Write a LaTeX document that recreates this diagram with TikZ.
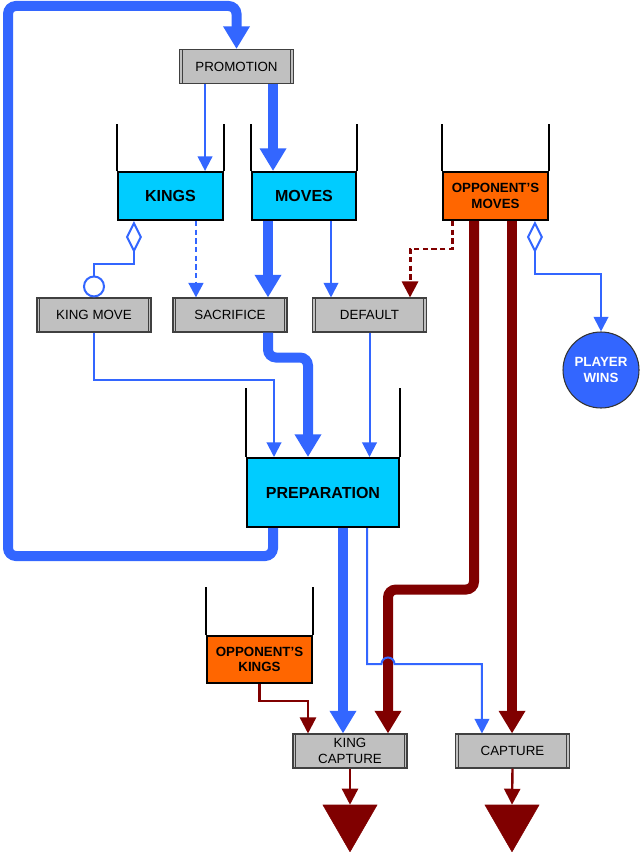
\documentclass[tikz,border=0pt]{standalone}
\usepackage{fontspec}
\setmainfont{Liberation Sans}
\usetikzlibrary{arrows.meta,shapes.geometric}

\definecolor{flowblue}{RGB}{51,102,255}
\definecolor{tankcyan}{RGB}{0,204,255}
\definecolor{tankorange}{RGB}{255,102,0}
\definecolor{darkred}{RGB}{128,0,0}
\definecolor{boxgray}{RGB}{192,192,192}

\tikzset{
  proc/.style={draw=black!75, line width=0.8pt, fill=boxgray, minimum width=85.5pt,
    minimum height=25.5pt, inner sep=1pt, align=center, font=\fontsize{10}{11.5}\selectfont,
    path picture={\draw[black!75, line width=0.8pt]
      ([xshift=2.2pt]path picture bounding box.north west) -- ([xshift=2.2pt]path picture bounding box.south west)
      ([xshift=-2.2pt]path picture bounding box.north east) -- ([xshift=-2.2pt]path picture bounding box.south east);}},
  tank/.style={draw=black, line width=1.5pt, fill=tankcyan, minimum width=78.75pt,
    minimum height=36pt, inner sep=1pt, align=center, font=\bfseries\fontsize{12}{14}\selectfont},
  opptank/.style={tank, fill=tankorange, font=\bfseries\fontsize{10}{11.5}\selectfont},
  wall/.style={draw=black, line width=1.5pt},
  sink/.style={regular polygon, regular polygon sides=3, shape border rotate=180,
    fill=darkred, draw=darkred, minimum size=46.8pt, inner sep=0pt},
  flow/.style={draw=flowblue, line width=1.5pt, -{Triangle[length=11pt,width=11pt]}},
  bigflow/.style={draw=flowblue, line width=7.5pt, rounded corners=6pt, -{Triangle[length=17pt,width=19pt]}},
  redflow/.style={draw=darkred, line width=1.8pt, -{Triangle[length=12pt,width=12pt]}},
  bigredflow/.style={draw=darkred, line width=7.5pt, rounded corners=6pt, -{Triangle[length=17pt,width=19pt]}},
  dotflow/.style={dash pattern=on 4pt off 2.5pt, line width=2.2pt},
  owns/.style={draw=flowblue, line width=1.5pt}
}

\begin{document}
\begin{tikzpicture}[x=0.75pt,y=0.75pt,yscale=-1,xscale=1]
\useasboundingbox (0,0) rectangle (639,852);

% processes
\node[proc] (promo) at (236.5,66.5) {PROMOTION};
\node[proc] (kingmove) at (94,315) {KING MOVE};
\node[proc] (sacrifice) at (230,315) {SACRIFICE};
\node[proc] (default) at (369.5,315) {DEFAULT};
\node[proc] (kingcap) at (350,751) {KING\\CAPTURE};
\node[proc] (capture) at (512.5,751) {CAPTURE};

% stores
\node[tank] (kings) at (170.5,196) {KINGS};
\node[tank, minimum width=78pt] (moves) at (304,196) {MOVES};
\node[opptank] (oppmoves) at (495.5,196) {OPPONENT’S\\MOVES};
\node[tank, minimum width=114pt, minimum height=51.75pt] (prep) at (323,492.5) {PREPARATION};
\node[opptank, minimum height=35.25pt] (oppkings) at (259.5,659.5) {OPPONENT’S\\KINGS};
\foreach \t/\h in {kings/47,moves/47,oppmoves/47,prep/69,oppkings/48}
  \draw[wall] (\t.north west) -- ++(0,-\h) (\t.north east) -- ++(0,-\h);

% end states
\node[circle, draw=black!80, line width=0.8pt, fill=flowblue, minimum size=57pt, inner sep=0pt,
  align=center, text=white, font=\bfseries\fontsize{10}{11.5}\selectfont] (wins) at (601,370) {PLAYER\\WINS};
\node[sink] (sink1) at (350,820.6) {};
\node[sink] (sink2) at (512,820.6) {};

\coordinate (loopbl) at (8,556);
\coordinate (looptl) at (8,6);

% main loop
\draw[bigflow] ([xshift=-37.5pt]prep.south) |- (loopbl) -- (looptl) -| (promo.north);

% promotion
\draw[flow] ([xshift=-23.6pt]promo.south) coordinate (p1) -- (p1 |- kings.north);
\draw[bigflow] ([xshift=27.4pt]promo.south) coordinate (p2) -- (p2 |- moves.north);

% kings and moves
\draw[owns, {Diamond[open,length=24pt,width=12pt]}-{Circle[open,length=16.5pt,width=16.5pt]}]
  ([xshift=-27.4pt]kings.south) -- ++(0,43) -| (kingmove.north);
\draw[flow, dotflow] ([xshift=19.1pt]kings.south) coordinate (k1) -- (k1 |- sacrifice.north);
\draw[bigflow] ([xshift=-27pt]moves.south) coordinate (m1) -- (m1 |- sacrifice.north);
\draw[flow] ([xshift=20.25pt]moves.south) coordinate (m2) -- (m2 |- default.north);

% opponent's moves
\draw[redflow, dotflow] ([xshift=-32.6pt]oppmoves.south) -- ++(0,28) -| ([xshift=30.4pt]default.north);
\draw[owns, {Diamond[open,length=24pt,width=12pt]}-{Triangle[length=11pt,width=11pt]}]
  ([xshift=29.6pt]oppmoves.south) -- ++(0,53) -| (wins.north);
\draw[bigredflow] ([xshift=-16.1pt]oppmoves.south) -- ++(0,368.5) -| ([xshift=28.5pt]kingcap.north);
\draw[bigredflow] ([xshift=12.4pt]oppmoves.south) coordinate (o2) -- (o2 |- capture.north);

% into preparation
\draw[flow] (kingmove.south) -- ++(0,47) -| ([xshift=-36.75pt]prep.north);
\draw[bigflow] ([xshift=28.5pt]sacrifice.south) -- ++(0,25) -| ([xshift=-11.25pt]prep.north);
\draw[flow] (default.south) -- (default.south |- prep.north);

% out of preparation
\draw[bigflow] ([xshift=15pt]prep.south) coordinate (r1) -- (r1 |- kingcap.north);
\draw[flow] ([xshift=33pt]prep.south) -- ++(0,136) -- ++(14.5,0)
  arc[start angle=180, end angle=360, radius=6.5] -| ([xshift=-22.9pt]capture.north);
\draw[redflow] (oppkings.south) -- ++(0,17) -| ([xshift=-31.5pt]kingcap.north);

% captures
\draw[redflow] (kingcap.south) -- (sink1.north);
\draw[redflow] (capture.south) -- (sink2.north);

\end{tikzpicture}
\end{document}
